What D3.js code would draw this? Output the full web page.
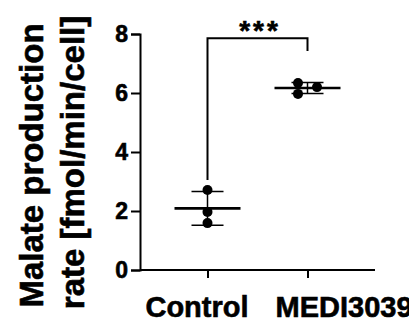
<!DOCTYPE html>
<html>
<head>
<meta charset="utf-8">
<script src="https://cdn.jsdelivr.net/npm/d3@7"></script>
<style>
  html, body { margin: 0; padding: 0; background: #fff; }
  svg { display: block; }
  text { font-family: "Liberation Sans", Arial, Helvetica, sans-serif; font-weight: bold; fill: #000; stroke: #000; stroke-width: 0.6px; }
</style>
</head>
<body>
<svg id="chart" width="409" height="324"></svg>
<script>
// Groups and replicate measurements (fmol/min/cell)
const categories = ["Control", "MEDI3039"];
const controlValues = [2.71, 1.97, 1.59];
const mediValues = [6.34, 5.97, 6.20];
const yTicks = [0, 2, 4, 6, 8];
const yTitleLines = ["Malate production", "rate [fmol/min/cell]"];
const significance = "***";

const series = [
  { name: categories[0], values: controlValues },
  { name: categories[1], values: mediValues }
];

const svg = d3.select("#chart");

const x = d3.scalePoint().domain(categories).range([140, 375]).padding(0.675);
const y = d3.scaleLinear().domain([0, 8]).range([270, 34]);

// Y axis
const yAxis = svg.append("g")
  .attr("transform", "translate(140,0)")
  .call(d3.axisLeft(y).tickValues(yTicks).tickSize(9).tickPadding(3).tickFormat(d3.format("d")));
yAxis.select(".domain").attr("stroke", "#000").attr("stroke-width", 2);
yAxis.selectAll(".tick line").attr("stroke", "#000").attr("stroke-width", 2);
yAxis.selectAll(".tick text").style("font-size", "23px").attr("fill", "#000");

// X axis
const xAxis = svg.append("g")
  .attr("transform", "translate(0,270)")
  .call(d3.axisBottom(x).tickSize(8).tickSizeOuter(0).tickFormat(""));
xAxis.select(".domain").attr("stroke", "#000").attr("stroke-width", 2)
  .attr("d", "M140,0H375");
xAxis.selectAll(".tick line").attr("stroke", "#000").attr("stroke-width", 2);

// Category labels under the axis
const labelLayout = { Control: { anchor: "middle", dx: -10.5 }, MEDI3039: { anchor: "start", dx: -32 } };
svg.append("g").selectAll("text")
  .data(categories)
  .join("text")
  .attr("x", d => x(d) + labelLayout[d].dx)
  .attr("y", 317)
  .attr("text-anchor", d => labelLayout[d].anchor)
  .style("font-size", "29px")
  .text(d => d);

// Y axis title (two lines, rotated)
const titleBaselines = [43, 84];
svg.append("g").selectAll("text")
  .data(yTitleLines)
  .join("text")
  .attr("transform", (d, i) => `translate(${titleBaselines[i]},${i === 0 ? 165.5 : 162.5}) rotate(-90)`)
  .attr("text-anchor", "middle")
  .style("font-size", "33px")
  .text(d => d);

// Spread overlapping points sideways within a group
const r = 5;
function spread(values) {
  const order = values.map((v, i) => i).sort((a, b) => values[b] - values[a]);
  const placed = [];
  const offs = new Array(values.length).fill(0);
  const step = 19;
  order.forEach(i => {
    const py = y(values[i]);
    const candidates = [0, step, -step, 2 * step, -2 * step];
    for (const c of candidates) {
      const ok = placed.every(p => Math.hypot(p.dx - c, p.py - py) >= 2 * r);
      if (ok) { offs[i] = c; placed.push({ dx: c, py }); break; }
    }
  });
  const mid = (d3.min(offs) + d3.max(offs)) / 2;
  return offs.map(o => o - mid);
}

series.forEach(s => {
  const cx = x(s.name);
  const mean = d3.mean(s.values);
  const sd = d3.deviation(s.values);
  const g = svg.append("g");
  // error bar (mean ± SD)
  g.append("line").attr("x1", cx).attr("x2", cx)
    .attr("y1", y(mean + sd)).attr("y2", y(mean - sd))
    .attr("stroke", "#000").attr("stroke-width", 1.5);
  [mean + sd, mean - sd].forEach(v => {
    g.append("line").attr("x1", cx - 16).attr("x2", cx + 16)
      .attr("y1", y(v)).attr("y2", y(v))
      .attr("stroke", "#000").attr("stroke-width", 1.5);
  });
  // mean line
  g.append("line").attr("x1", cx - 33).attr("x2", cx + 33)
    .attr("y1", y(mean)).attr("y2", y(mean))
    .attr("stroke", "#000").attr("stroke-width", 2.6);
  // replicates
  const offs = spread(s.values);
  g.selectAll("circle")
    .data(s.values)
    .join("circle")
    .attr("cx", (d, i) => cx + offs[i])
    .attr("cy", d => y(d))
    .attr("r", r)
    .attr("fill", "#000");
});

// Significance bracket
const bracketY = y(7.86);
const leftEnd = y(3.05), rightEnd = y(7.42);
svg.append("path")
  .attr("d", `M${x(categories[0])},${leftEnd}V${bracketY}H${x(categories[1])}V${rightEnd}`)
  .attr("fill", "none").attr("stroke", "#000").attr("stroke-width", 2);
svg.append("text")
  .attr("x", (x(categories[0]) + x(categories[1])) / 2 + 2.5)
  .attr("y", 40)
  .attr("text-anchor", "middle")
  .attr("letter-spacing", "3px")
  .style("font-size", "28px")
  .text(significance);
</script>
</body>
</html>
